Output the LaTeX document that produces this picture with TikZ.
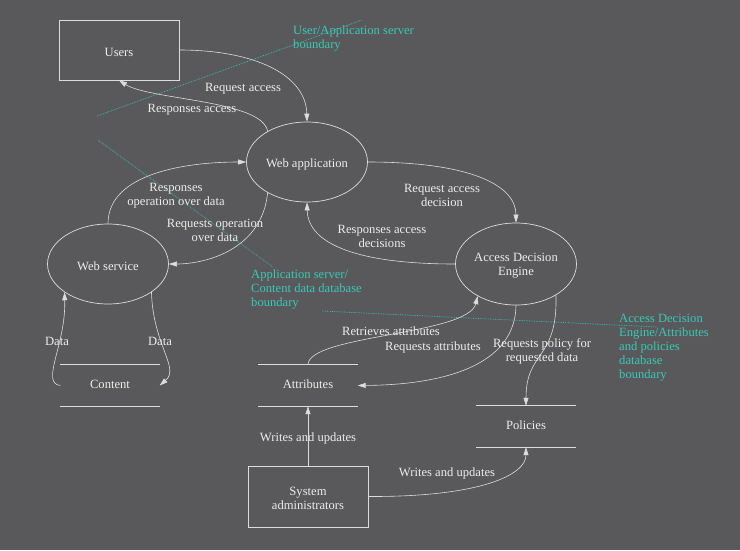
\documentclass[tikz,border=0pt]{standalone}
\usepackage{fontspec}
\setmainfont{Liberation Serif}
\usetikzlibrary{arrows.meta,shapes.geometric}
\definecolor{bg}{RGB}{89,89,91}
\definecolor{ln}{RGB}{220,220,220}
\definecolor{tx}{RGB}{236,236,232}
\definecolor{teal}{RGB}{58,200,182}
\begin{document}
\begin{tikzpicture}[x=1pt,y=-1pt,
  every node/.style={font=\fontsize{12.6}{14}\selectfont, text=tx, align=center},
  txt/.style={inner sep=0pt, yshift=-2pt},
  stxt/.style={inner sep=0pt, yshift=1.5pt},
  boxnode/.style={draw=ln, line width=0.7pt, minimum width=120pt, minimum height=60pt, inner sep=0pt},
  procnode/.style={ellipse, draw=ln, line width=0.7pt, minimum width=121pt, minimum height=80pt, inner sep=0pt},
  storenode/.style={minimum width=99pt, minimum height=41pt, inner sep=0pt},
  storeline/.style={draw=ln, line width=0.8pt},
  flow/.style={draw=ln, line width=0.6pt, -{Triangle[length=8pt,width=5pt]}},
  lbl/.style={inner sep=0pt, yshift=-2.5pt},
  bound/.style={draw=teal, line width=0.7pt, densely dotted},
  blbl/.style={text=teal, align=left, inner sep=0pt, anchor=north west, yshift=-3pt}]
\useasboundingbox[fill=bg] (0,0) rectangle (740,550);

% nodes
\node[boxnode, label={[txt]center:Users}] (users) at (119,50) {};
\node[procnode, label={[txt]center:Web application}] (webapp) at (307,162) {};
\node[procnode, label={[txt]center:Web service}] (websvc) at (108,264) {};
\node[procnode, minimum height=82pt, label={[txt]center:Access Decision\\Engine}] (ade) at (516,264) {};
\node[storenode, label={[stxt]center:Content}] (content) at (110,385.5) {};
\node[storenode, label={[stxt]center:Attributes}] (attr) at (308,385.5) {};
\node[storenode, label={[stxt]center:Policies}] (pol) at (526,426.5) {};
\node[boxnode, minimum height=61pt, label={[txt]center:System\\administrators}] (sysadm) at (308,496.5) {};

\foreach \s in {content,attr,pol}{
  \draw[storeline] (\s.north west) -- (\s.north east);
  \draw[storeline] (\s.south west) -- (\s.south east);
}

% boundaries
\coordinate (b1a) at (97,116); \coordinate (b1b) at (362,20);
\coordinate (b2a) at (98,140); \coordinate (b2b) at (273,267);
\coordinate (b3a) at (322,311); \coordinate (b3b) at (657,327);
\draw[bound] (b1a) -- (b1b);
\draw[bound] (b2a) -- (b2b);
\draw[bound] (b3a) -- (b3b);
\node[blbl] (bl1) at (293,23) {User/Application server\\boundary};
\node[blbl] (bl2) at (251,267) {Application server/\\Content data database\\boundary};
\node[blbl] (bl3) at (619,311) {Access Decision\\Engine/Attributes\\and policies\\database\\boundary};

% flows
\draw[flow] (users.east) .. controls (255,50) and (306,75) .. (webapp.north);
\draw[flow] (webapp.142) .. controls (262,100) and (150,100) .. (users.south);
\draw[flow] (websvc.north) .. controls (108,172) and (190,162) .. (webapp.west);
\draw[flow] (webapp.218) .. controls (262,250) and (205,264) .. (websvc.east);
\draw[flow] (webapp.east) .. controls (470,162) and (516,185) .. (ade.north);
\draw[flow] (ade.west) .. controls (360,264) and (308,245) .. (webapp.south);
\draw[flow] (content.west) .. controls (40,383) and (66,345) .. (websvc.213);
\draw[flow] (websvc.327) .. controls (153,345) and (180,368) .. (content.east);
\draw[flow] (attr.north) .. controls (308,335) and (468,335) .. (ade.220);
\draw[flow] (ade.south) .. controls (515,375) and (420,385) .. (attr.east);
\draw[flow] (ade.322) .. controls (558,360) and (526,350) .. (pol.north);
\draw[flow] (sysadm.north) -- (attr.south);
\draw[flow] (sysadm.east) .. controls (480,497) and (526,475) .. (pol.south);

% labels
\node[lbl] (l1) at (243,86) {Request access};
\node[lbl] (l2) at (192,107) {Responses access};
\node[lbl] (l3) at (176,193) {Responses\\operation over data};
\node[lbl] (l4) at (215,228) {Requests operation\\over data};
\node[lbl] (l5) at (442,193) {Request access\\decision};
\node[lbl] (l6) at (382,234) {Responses access\\decisions};
\node[lbl] (l7) at (57,339) {Data};
\node[lbl] (l8) at (160,339) {Data};
\node[lbl] (l9) at (391,329) {Retrieves attributes};
\node[lbl] (l10) at (433,345) {Requests attributes};
\node[lbl] (l11) at (542,349) {Requests policy for\\requested data};
\node[lbl] (l12) at (308,436) {Writes and updates};
\node[lbl] (l13) at (447,471) {Writes and updates};
\end{tikzpicture}
\end{document}
